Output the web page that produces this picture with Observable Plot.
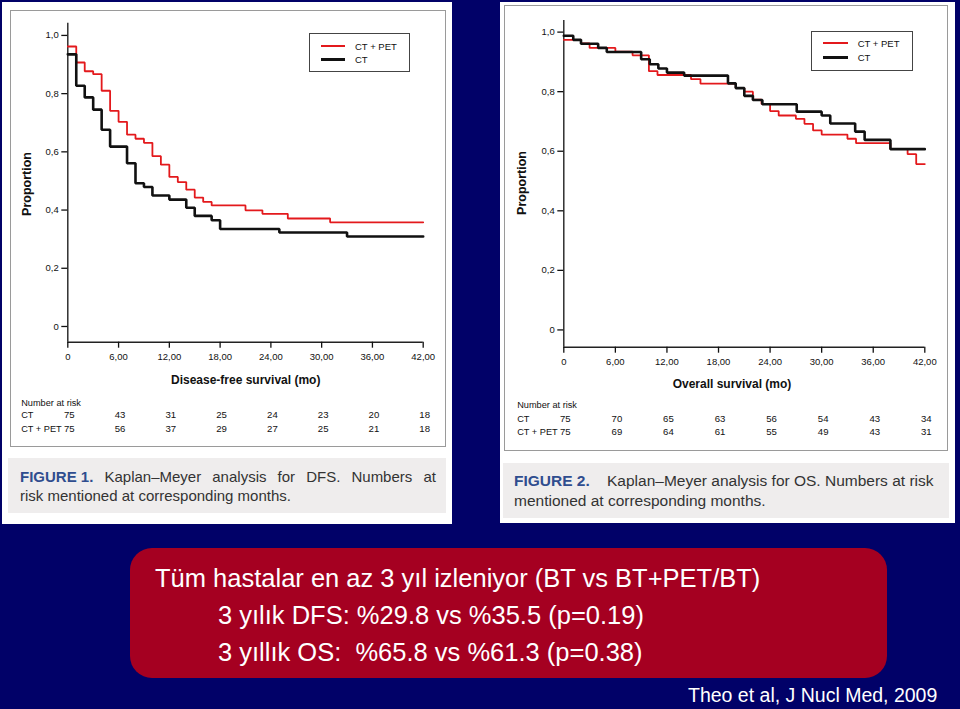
<!DOCTYPE html>
<html><head><meta charset="utf-8">
<script src="https://cdn.jsdelivr.net/npm/d3@7"></script>
<script src="https://cdn.jsdelivr.net/npm/@observablehq/plot@0.6"></script>
<style>
html,body{margin:0;padding:0;}
body{width:960px;height:709px;background:#010168;position:relative;overflow:hidden;font-family:"Liberation Sans",Arial,sans-serif;}
.abs{position:absolute;}
.panel{position:absolute;background:#fff;}
.frame{position:absolute;border:1px solid #9a9a9a;box-sizing:border-box;}
.band{position:absolute;background:#efeded;}
.cap{position:absolute;font-size:15px;line-height:19px;color:#333;white-space:nowrap;}
.cap b{color:#2f4d8f;font-weight:bold;}
.ctr{position:absolute;transform:translate(-50%,-50%);white-space:nowrap;}
.ttl{font-weight:bold;color:#111;font-family:"Liberation Sans",Arial,sans-serif;}
.leg{position:absolute;border:1px solid #444;box-sizing:border-box;background:#fff;}
.sw{position:absolute;}
.lt{position:absolute;transform:translateY(-50%);font-family:"Liberation Sans",Arial,sans-serif;font-size:9.5px;color:#111;white-space:nowrap;}
.box{position:absolute;left:130px;top:548px;width:757px;height:130px;border-radius:22px;background:#a50021;}
.bt{position:absolute;color:#fff;font-size:25.5px;line-height:25.5px;white-space:nowrap;font-family:"Liberation Sans",Arial,sans-serif;}
</style></head><body>
<script>
// ---------- data ----------
const months = [0, 6, 12, 18, 24, 30, 36, 42];
const xTickLabels = ["0", "6,00", "12,00", "18,00", "24,00", "30,00", "36,00", "42,00"];
const yTicks = [0, 0.2, 0.4, 0.6, 0.8, 1.0];
const yTickLabels = ["0", "0,2", "0,4", "0,6", "0,8", "1,0"];
const seriesNames = ["CT + PET", "CT"];

// DFS (Figure 1)
const dfsPetTime = [0, 1, 2, 3, 4, 5, 6, 7, 8, 9, 10, 11, 12, 13, 14, 15, 16, 17, 21, 23, 26, 31, 42];
const dfsPetSurv = [0.962, 0.907, 0.877, 0.867, 0.810, 0.741, 0.703, 0.659, 0.645, 0.631, 0.585, 0.556, 0.514, 0.496, 0.470, 0.443, 0.428, 0.416, 0.399, 0.387, 0.371, 0.358, 0.358];
const dfsCtTime = [0, 1, 2, 3, 4, 5, 7, 8, 9, 10, 12, 14, 15, 17, 18, 25, 33, 42];
const dfsCtSurv = [0.935, 0.827, 0.787, 0.745, 0.676, 0.618, 0.561, 0.492, 0.479, 0.450, 0.436, 0.408, 0.380, 0.365, 0.335, 0.323, 0.309, 0.309];
const dfsRiskCt = [75, 43, 31, 25, 24, 23, 20, 18];
const dfsRiskPet = [75, 56, 37, 29, 27, 25, 21, 18];

// OS (Figure 2)
const osPetTime = [0, 2, 3, 6, 8, 9.9, 10.9, 14.8, 15.9, 20, 21, 22, 23, 24, 25, 27, 28, 29, 30, 33, 34, 38, 40, 41, 42];
const osPetSurv = [0.974, 0.962, 0.947, 0.934, 0.922, 0.869, 0.856, 0.842, 0.827, 0.812, 0.800, 0.773, 0.759, 0.735, 0.720, 0.709, 0.692, 0.670, 0.656, 0.642, 0.627, 0.607, 0.590, 0.557, 0.557];
const osCtTime = [0, 1.1, 2, 4, 5, 9, 10, 11, 12, 14, 19.1, 20, 21, 22, 23.1, 27.1, 30, 31, 33.9, 35, 38, 42];
const osCtSurv = [0.988, 0.974, 0.961, 0.947, 0.933, 0.909, 0.892, 0.878, 0.864, 0.854, 0.828, 0.812, 0.786, 0.772, 0.758, 0.733, 0.720, 0.693, 0.666, 0.638, 0.607, 0.607];
const osRiskCt = [75, 70, 65, 63, 56, 54, 43, 34];
const osRiskPet = [75, 69, 64, 61, 55, 49, 43, 31];

// ---------- helpers ----------
const RED = "#e3191c", BLACK = "#111";
const RISKFONT = "Liberation Sans, Arial, sans-serif";
const zip = (ts, ss) => ts.map((t, i) => ({t, s: ss[i]}));

function km(o) {
  const [yMin, yMax] = o.yDomain;
  const riskRow = (vals, dy) => Plot.text(months.map((t, i) => ({t, v: vals[i]})),
    {x: "t", text: "v", frameAnchor: "bottom", dy, dx: 1.5, fontFamily: RISKFONT, fontSize: 9.6, fill: "#111"});
  const label = (txt, dy) => Plot.text([txt], {text: d => d, frameAnchor: "bottom-left", dx: -46.6, dy,
    textAnchor: "start", fontFamily: RISKFONT, fontSize: 9.2, fill: "#111"});
  return Plot.plot({
    width: o.width, height: o.height,
    marginLeft: o.ml, marginRight: o.mr, marginTop: o.mt, marginBottom: o.mb,
    style: {background: "none", overflow: "visible", fontFamily: "Liberation Sans, Arial, sans-serif", fontSize: "9.5px", color: "#111"},
    x: {domain: [0, 42]},
    y: {domain: [yMin, yMax]},
    marks: [
      Plot.ruleX([0], {y1: yMin, y2: yMax, stroke: "#222", strokeWidth: 1.4}),
      Plot.ruleY([yMin], {x1: 0, x2: 42, stroke: "#222", strokeWidth: 1.4}),
      Plot.axisY({ticks: yTicks, tickFormat: d => yTickLabels[yTicks.indexOf(d)], tickSize: 6, tickPadding: 3, label: null, strokeWidth: 1.3}),
      Plot.axisX({ticks: months, tickFormat: d => xTickLabels[months.indexOf(d)], tickSize: 6, tickPadding: 5, label: null, strokeWidth: 1.3}),
      Plot.line(zip(o.petT, o.petS), {x: "t", y: "s", curve: "step-after", stroke: RED, strokeWidth: 1.8, strokeLinejoin: "miter"}),
      Plot.line(zip(o.ctT, o.ctS), {x: "t", y: "s", curve: "step-after", stroke: BLACK, strokeWidth: 2.6, strokeLinejoin: "miter"}),
      label("Number at risk", o.dyHead),
      label("CT", o.dyCt),
      label("CT + PET", o.dyPet),
      riskRow(o.riskCt, o.dyCt),
      riskRow(o.riskPet, o.dyPet)
    ]
  });
}

function el(cls, style, html) {
  const d = document.createElement("div");
  if (cls) d.className = cls;
  Object.assign(d.style, style);
  if (html != null) d.innerHTML = html;
  document.body.appendChild(d);
  return d;
}

// ---------- left panel ----------
el("panel", {left: "2px", top: "2px", width: "450px", height: "522px"});
el("frame", {left: "10px", top: "10px", width: "436px", height: "437px"});
el("band", {left: "8px", top: "458px", width: "438px", height: "55px"});

const left = el("abs", {left: "0px", top: "0px"});
left.appendChild(km({
  width: 452, height: 445, ml: 67.3, mr: 29.3, mt: 22.7, mb: 103.3,
  yDomain: [-0.054, 1.042],
  petT: dfsPetTime, petS: dfsPetSurv, ctT: dfsCtTime, ctS: dfsCtSurv,
  riskCt: dfsRiskCt, riskPet: dfsRiskPet, dyHead: 63.3, dyCt: 76, dyPet: 89.3
}));
el("ctr ttl", {left: "26.7px", top: "184px", fontSize: "12.5px", transform: "translate(-50%,-50%) rotate(-90deg)"}, "Proportion");
el("ctr ttl", {left: "245.7px", top: "380px", fontSize: "12px"}, "Disease-free survival (mo)");
el("leg", {left: "309px", top: "33px", width: "101px", height: "39px"});
el("sw", {left: "320.7px", top: "45px", width: "24.5px", height: "2px", background: RED});
el("sw", {left: "320.7px", top: "57.8px", width: "24.5px", height: "3px", background: BLACK});
el("lt", {left: "355px", top: "46px"}, seriesNames[0]);
el("lt", {left: "355px", top: "59.3px"}, seriesNames[1]);
el("cap", {left: "20px", top: "467px", width: "416px", display: "flex", justifyContent: "space-between"},
  "<span><b>FIGURE 1.</b></span><span>Kaplan–Meyer</span><span>analysis</span><span>for</span><span>DFS.</span><span>Numbers</span><span>at</span>");
el("cap", {left: "20px", top: "486px"}, "risk mentioned at corresponding months.");

// ---------- right panel ----------
el("panel", {left: "500px", top: "2px", width: "455px", height: "521px"});
el("frame", {left: "504px", top: "5px", width: "444px", height: "446px"});
el("band", {left: "503px", top: "463px", width: "446px", height: "55px"});

const right = el("abs", {left: "495px", top: "0px"});
right.appendChild(km({
  width: 460, height: 450, ml: 68.3, mr: 30.7, mt: 20, mb: 103.3,
  yDomain: [-0.058, 1.039],
  petT: osPetTime, petS: osPetSurv, ctT: osCtTime, ctS: osCtSurv,
  riskCt: osRiskCt, riskPet: osRiskPet, dyHead: 60.6, dyCt: 74.3, dyPet: 87.6
}));
el("ctr ttl", {left: "521.7px", top: "183px", fontSize: "12.5px", transform: "translate(-50%,-50%) rotate(-90deg)"}, "Proportion");
el("ctr ttl", {left: "732px", top: "384px", fontSize: "12px"}, "Overall survival (mo)");
el("leg", {left: "811px", top: "31px", width: "102px", height: "40px"});
el("sw", {left: "823px", top: "42.3px", width: "25px", height: "2px", background: RED});
el("sw", {left: "823px", top: "55.8px", width: "25px", height: "3px", background: BLACK});
el("lt", {left: "857.7px", top: "43.3px"}, seriesNames[0]);
el("lt", {left: "857.7px", top: "57.3px"}, seriesNames[1]);
el("cap", {left: "514px", top: "471px", fontSize: "15.5px"},
  "<b>FIGURE 2.</b>&nbsp;&nbsp;&nbsp; Kaplan–Meyer analysis for OS. Numbers at risk");
el("cap", {left: "514px", top: "491px", fontSize: "15.5px"}, "mentioned at corresponding months.");

// ---------- summary box ----------
el("box", {});
el("bt", {left: "155px", top: "566.4px"}, "Tüm hastalar en az 3 yıl izleniyor (BT vs BT+PET/BT)");
el("bt", {left: "218px", top: "603.4px"}, "3 yılık DFS: %29.8 vs %35.5 (p=0.19)");
el("bt", {left: "218px", top: "640.4px"}, "3 yıllık OS:&nbsp; %65.8 vs %61.3 (p=0.38)");
el("bt", {left: "688px", top: "686px", fontSize: "19.5px", lineHeight: "19.5px"}, "Theo et al, J Nucl Med, 2009");
</script>
</body></html>
